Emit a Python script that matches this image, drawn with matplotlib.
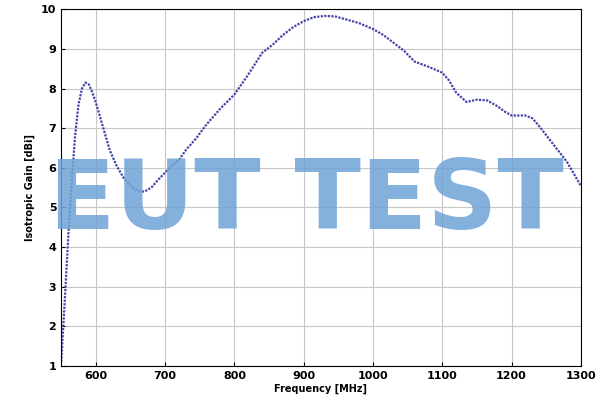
import matplotlib
matplotlib.use("Agg")
import matplotlib.pyplot as plt
import numpy as np

freq = [550,555,560,565,570,575,580,585,590,595,600,610,620,630,640,650,660,670,680,690,700,710,720,730,745,760,780,800,820,840,855,870,885,900,915,930,945,960,980,1000,1015,1030,1045,1060,1080,1100,1110,1120,1135,1150,1165,1180,1190,1200,1220,1230,1240,1260,1280,1300]
gain = [1.1,2.6,4.2,5.6,6.8,7.6,8.0,8.15,8.1,7.9,7.65,7.05,6.45,6.05,5.75,5.55,5.42,5.4,5.5,5.7,5.88,6.05,6.2,6.45,6.75,7.1,7.5,7.85,8.35,8.9,9.1,9.35,9.55,9.7,9.8,9.83,9.82,9.75,9.65,9.5,9.35,9.15,8.95,8.68,8.55,8.4,8.2,7.9,7.66,7.72,7.7,7.55,7.42,7.32,7.32,7.25,7.05,6.6,6.15,5.55]

fig = plt.figure(figsize=(6,4.01), dpi=100)
ax = fig.add_axes([0.102, 0.087, 0.866, 0.89])
ax.plot(freq, gain, color="#4444aa", linestyle=(0,(1,0.6)), linewidth=1.6)
ax.set_xlim(550,1300); ax.set_ylim(1,10)
ax.set_xticks([600,700,800,900,1000,1100,1200,1300])
ax.set_yticks(range(1,11))
ax.grid(True, color="#c8c8c8", linewidth=0.8)
ax.tick_params(labelsize=8, direction="in", length=3)
for l in ax.get_xticklabels()+ax.get_yticklabels(): l.set_fontweight("bold")
ax.set_xlabel("Frequency [MHz]", fontsize=7, fontweight="bold", labelpad=2)
ax.set_ylabel("Isotropic Gain [dBi]", fontsize=7, fontweight="bold", labelpad=4)
fig.text(0.51, 0.496, "EUT TEST", fontsize=70, color="#6fa3d6", alpha=0.85,
         ha="center", va="center", fontweight="bold",
         family=["Liberation Sans Narrow", "DejaVu Sans"])
fig.savefig("out.png", dpi=100)
